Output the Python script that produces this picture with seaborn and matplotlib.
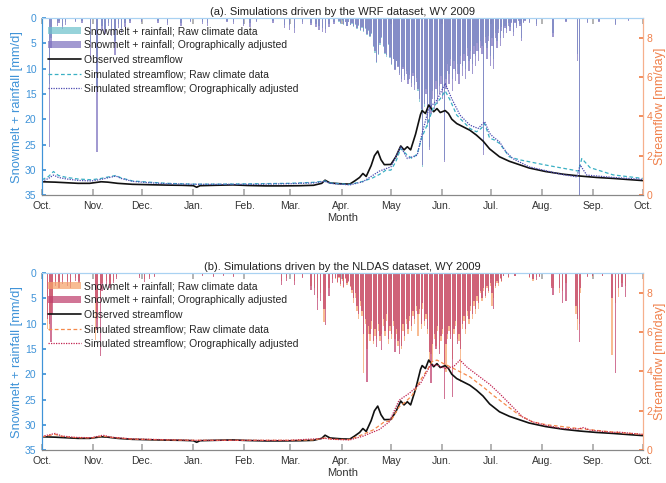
import numpy as np
import matplotlib
matplotlib.use("Agg")
import matplotlib.pyplot as plt
import seaborn as sns

# Day of water year (0 = Oct 1, 2008)
month_starts = [0, 31, 61, 92, 123, 151, 182, 212, 243, 273, 304, 335, 365]
month_labels = ["Oct.", "Nov.", "Dec.", "Jan.", "Feb.", "Mar.", "Apr.", "May",
                "Jun.", "Jul.", "Aug.", "Sep.", "Oct."]

# Observed streamflow [mm/day] (same in both panels)
obs_day = [0, 8, 15, 22, 29, 36, 40, 46, 55, 65, 76, 85, 92, 94, 96, 105, 116, 125, 136, 146,
           157, 165, 170, 172, 175, 181, 187, 190, 193, 195, 197, 200, 202, 204, 206, 208, 212,
           215, 218, 220, 222, 224, 227, 230, 231, 233, 235, 238, 240, 242, 245, 247, 249, 252,
           256, 260, 264, 268, 272, 278, 284, 290, 296, 306, 317, 327, 337, 347, 355, 365]
obs_q = [0.68, 0.66, 0.63, 0.6, 0.6, 0.68, 0.66, 0.6, 0.55, 0.53, 0.51, 0.5, 0.48, 0.4, 0.48,
         0.5, 0.52, 0.49, 0.47, 0.47, 0.48, 0.5, 0.6, 0.76, 0.62, 0.58, 0.56, 0.72, 0.9, 1.1,
         0.95, 1.5, 2.0, 2.24, 1.8, 1.55, 1.56, 1.95, 2.5, 2.3, 2.46, 2.3, 3.1, 4.1, 4.3, 4.15,
         4.58, 4.24, 4.4, 4.2, 4.3, 4.15, 3.86, 3.64, 3.47, 3.3, 3.05, 2.75, 2.35, 1.95, 1.72,
         1.55, 1.38, 1.2, 1.06, 0.97, 0.9, 0.85, 0.8, 0.74]

# WRF simulated streamflow
wrf_raw_day = [0, 4, 7, 10, 15, 22, 30, 36, 40, 45, 48, 55, 65, 76, 92, 110, 130, 150, 165, 172,
               175, 187, 195, 201, 205, 209, 212, 215, 218, 222, 225, 228, 231, 234, 238, 242,
               245, 248, 252, 256, 260, 264, 267, 269, 272, 275, 278, 284, 290, 306, 323, 326,
               328, 333, 347, 365]
wrf_raw_q = [0.78, 0.95, 1.2, 1.0, 0.9, 0.82, 0.78, 0.85, 0.92, 1.0, 0.88, 0.72, 0.66, 0.6,
             0.56, 0.56, 0.58, 0.6, 0.65, 0.72, 0.62, 0.54, 0.7, 0.88, 1.05, 1.27, 1.27, 1.7,
             2.37, 2.03, 1.86, 2.1, 2.97, 3.56, 4.5, 4.9, 5.3, 4.83, 4.07, 3.73, 3.39, 3.22, 3.4,
             3.64, 2.9, 2.8, 2.63, 1.95, 1.8, 1.53, 1.27, 1.22, 1.86, 1.4, 1.03, 0.85]
wrf_oro_day = [0, 4, 7, 10, 15, 22, 30, 36, 40, 45, 48, 55, 65, 76, 92, 110, 130, 150, 165, 172,
               175, 187, 195, 205, 212, 218, 222, 228, 231, 235, 240, 245, 249, 254, 260, 265,
               269, 272, 274, 278, 282, 286, 296, 316, 325, 327, 331, 347, 365]
wrf_oro_q = [0.7, 0.85, 1.02, 0.9, 0.82, 0.75, 0.72, 0.8, 0.88, 0.97, 0.85, 0.7, 0.63, 0.58,
             0.55, 0.55, 0.55, 0.58, 0.62, 0.7, 0.6, 0.52, 0.68, 1.22, 1.44, 2.46, 1.86, 2.03,
             3.14, 4.4, 4.83, 5.68, 4.9, 4.07, 3.56, 3.39, 3.73, 3.14, 2.97, 2.71, 2.2, 1.86,
             1.44, 1.05, 0.93, 1.53, 1.02, 0.9, 0.8]

# NLDAS simulated streamflow
nl_raw_day = [0, 8, 12, 20, 30, 37, 42, 55, 76, 92, 120, 150, 165, 172, 177, 187, 195, 201, 204,
              208, 212, 217, 221, 225, 230, 234, 237, 240, 244, 248, 252, 256, 260, 264, 268,
              274, 282, 290, 298, 306, 326, 347, 365]
nl_raw_q = [0.68, 0.8, 0.7, 0.64, 0.62, 0.72, 0.65, 0.56, 0.52, 0.5, 0.5, 0.5, 0.52, 0.62, 0.55,
            0.54, 0.8, 1.02, 1.19, 1.44, 1.49, 2.2, 2.46, 2.8, 3.56, 4.07, 4.5, 4.58, 4.4, 4.24,
            4.07, 3.9, 3.73, 3.47, 3.22, 2.8, 2.29, 1.78, 1.44, 1.3, 1.1, 0.92, 0.8]
nl_oro_day = [0, 8, 12, 20, 30, 37, 42, 55, 76, 92, 120, 150, 172, 177, 187, 195, 205, 211, 217,
              223, 230, 236, 240, 245, 250, 254, 258, 262, 268, 272, 278, 286, 292, 298, 306,
              316, 326, 329, 333, 347, 350, 365]
nl_oro_q = [0.7, 0.85, 0.72, 0.65, 0.63, 0.76, 0.66, 0.57, 0.53, 0.5, 0.5, 0.5, 0.6, 0.55, 0.52,
            0.71, 1.05, 1.44, 2.54, 2.88, 3.39, 4.32, 4.32, 4.15, 4.24, 4.58, 4.24, 3.98, 3.6,
            3.35, 2.88, 2.2, 1.69, 1.44, 1.27, 1.1, 1.08, 1.15, 1.02, 0.9, 0.92, 0.8]

# WRF snowmelt + rainfall [mm/d]: isolated days, then a daily block from day 180
wrf_sparse_day = [4, 5, 9, 10, 12, 14, 20, 24, 29, 33, 36, 38, 40, 42, 44, 46, 48, 50, 53, 60, 70,
                  76, 84, 90, 97, 100, 112, 116, 122, 126, 130, 140, 147, 150, 153, 158, 163,
                  166, 168, 170, 172, 174, 177, 296, 300, 310, 318, 325, 326, 331, 338, 348, 356]
wrf_sparse_raw = [13, 4, 1.0, 0.6, 1.6, 0.8, 0.5, 0.6, 5, 14, 1.5, 2.2, 0.9, 2.6, 4.5, 1.2, 2.0,
                  1.0, 0.6, 0.5, 0.6, 0.9, 1.0, 0.5, 0.7, 1.0, 0.5, 0.8, 1.1, 0.9, 0.5, 0.6, 1.3,
                  1.4, 2.0, 0.8, 0.9, 1.2, 1.6, 1.9, 2.2, 1.2, 0.7, 0.8, 1.2, 3.0, 0.6, 7.0, 35,
                  0.8, 0.6, 1.2, 0.4]
wrf_sparse_oro = [25.5, 6, 1.6, 0.9, 2.2, 1.3, 0.8, 1.0, 8, 26.5, 2.5, 3.2, 1.6, 3.6, 7.3, 2.0,
                  3.0, 1.8, 1.0, 0.8, 1.0, 1.3, 1.6, 0.8, 1.1, 1.5, 0.8, 1.2, 1.6, 1.7, 0.8, 1.0,
                  2.0, 2.3, 3.0, 1.2, 1.4, 1.8, 2.3, 2.7, 3.0, 1.7, 1.1, 1.0, 1.5, 3.7, 0.8, 8.5,
                  36, 1.0, 0.7, 1.4, 0.5]
wrf_block_start = 180
wrf_block_raw = [0.7, 1.1, 0.5, 1.3, 0.8, 1.6, 0.8, 1.4, 1.1, 1.8,
                 1.3, 2.2, 1.5, 2.5, 1.9, 2.8, 2.2, 3.4, 2.6, 3.8,
                 3.2, 5.8, 6.9, 8.9, 7.2, 5.3, 4.0, 5.8, 7.1, 7.6,
                 5.4, 7.8, 9.2, 8.1, 10.0, 8.5, 9.4, 10.8, 12.0, 9.6,
                 11.5, 10.5, 12.2, 11.3, 12.8, 10.8, 13.2, 11.8, 14.5, 16.5,
                 18.5, 29.5, 17.5, 14.0, 21.5, 25.5, 17.5, 14.5, 16.0, 12.5,
                 15.0, 13.5, 11.5, 14.0, 28.0, 12.0, 9.0, 11.0, 8.0, 12.0,
                 8.5, 10.5, 9.0, 11.0, 7.5, 9.5, 7.0, 10.0, 6.0, 8.5,
                 6.5, 9.0, 5.5, 7.5, 5.0, 6.5, 4.5, 5.5, 26.0, 3.8,
                 6.0, 3.5, 7.5, 4.0, 8.0, 3.0, 4.5, 2.2, 4.0, 1.8,
                 3.0, 1.5, 2.2, 1.0, 1.8, 0.8, 2.8, 0.7, 1.5, 0.4,
                 1.2, 4.0, 0.8, 0.4]
wrf_block_oro = [0.6, 1.0, 0.4, 1.2, 0.8, 1.5, 0.7, 1.3, 1.0, 1.6,
                 1.2, 2.0, 1.4, 2.3, 1.8, 2.6, 2.0, 3.2, 2.4, 3.6,
                 3.0, 5.5, 6.6, 8.6, 7.0, 5.0, 3.8, 5.6, 6.8, 7.3,
                 5.2, 7.6, 9.0, 8.0, 10.2, 8.4, 9.6, 11.2, 12.6, 10.0,
                 12.2, 11.0, 13.0, 12.0, 13.6, 11.4, 14.2, 12.6, 14.0, 16.0,
                 18.0, 29.0, 17.0, 15.0, 21.0, 26.0, 19.0, 16.0, 18.0, 14.0,
                 17.0, 15.0, 13.0, 16.0, 28.5, 14.0, 10.5, 13.0, 9.5, 14.5,
                 10.0, 12.5, 11.0, 13.0, 9.0, 11.5, 8.5, 12.0, 7.5, 10.5,
                 8.0, 11.0, 7.0, 9.5, 6.5, 8.5, 6.0, 7.0, 27.0, 5.0,
                 8.0, 4.5, 9.5, 5.5, 10.0, 4.0, 6.0, 3.0, 5.5, 2.5,
                 4.0, 2.0, 3.0, 1.5, 2.5, 1.0, 3.5, 1.0, 2.0, 0.5,
                 1.5, 4.5, 1.0, 0.5]

# NLDAS snowmelt + rainfall [mm/d]
nl_sparse_day = [3, 4, 5, 6, 8, 10, 12, 15, 17, 20, 22, 32, 33, 35, 36, 39, 41, 43, 45, 59, 62, 65,
                 68, 97, 104, 110, 116, 145, 148, 153, 158, 163, 165, 167, 169, 171, 172, 174,
                 176, 283, 287, 296, 298, 300, 302, 309, 310, 314, 316, 318, 324, 325, 326, 327,
                 331, 334, 340, 346, 348, 350, 352, 354]
nl_sparse_raw = [11, 11.5, 8, 6, 1.5, 2.0, 1.4, 1.5, 2.0, 1.0, 1.5, 13.2, 9, 5, 2.0, 1.5, 2.2,
                 1.5, 0.8, 0.6, 1.2, 0.8, 0.5, 0.4, 0.5, 0.4, 0.5, 1.5, 1.0, 1.6, 0.7, 2.5, 3.0,
                 5.0, 4.0, 9.6, 7.0, 3.0, 1.2, 1.0, 0.6, 1.0, 1.5, 0.8, 0.5, 2.5, 3.0, 4.0, 3.5,
                 2.0, 8.0, 11.3, 10.0, 4.0, 0.6, 0.8, 0.5, 16.2, 6.0, 4.7, 2.0, 2.5]
nl_sparse_oro = [9, 10, 13.6, 8, 2.5, 3.0, 2.2, 2.5, 3.0, 1.5, 2.0, 6, 11.3, 16.4, 3.5, 2.5, 3.0,
                 2.0, 1.2, 1.0, 1.8, 1.2, 0.8, 0.6, 0.7, 0.6, 0.8, 2.4, 1.6, 2.4, 1.0, 3.4, 4.4,
                 7.3, 5.5, 7.0, 10.3, 4.5, 2.0, 0.8, 0.5, 0.8, 1.2, 1.4, 0.8, 3.0, 4.4, 3.0, 6.0,
                 5.5, 6.5, 9.0, 13.6, 3.0, 0.8, 0.5, 0.6, 5.0, 19.8, 3.0, 2.7, 4.7]
nl_block_start = 178
nl_block_raw = [1.2, 2.0, 1.0, 2.5, 1.5, 3.0, 1.2, 2.3, 1.8, 2.8,
                4.0, 6.0, 5.0, 7.5, 9.0, 6.5, 8.5, 19.8, 10.0, 15.0,
                12.0, 13.5, 11.0, 14.0, 12.5, 13.0, 11.5, 13.5, 12.0, 10.5,
                12.5, 9.5, 14.0, 11.5, 13.0, 10.5, 13.0, 12.0, 14.5, 13.0,
                15.0, 11.5, 13.5, 10.0, 12.0, 9.5, 11.5, 8.5, 10.0, 7.5,
                12.4, 8.0, 11.0, 7.0, 10.5, 9.0, 12.0, 17.8, 16.0, 17.5,
                13.0, 14.5, 11.5, 15.0, 13.5, 12.0, 18.0, 19.5, 13.0, 11.5,
                12.0, 17.0, 12.0, 10.5, 13.0, 13.5, 21.5, 11.0, 9.5, 12.0,
                8.5, 10.0, 7.5, 9.0, 6.5, 8.0, 5.5, 7.0, 4.0, 5.5,
                3.5, 5.0, 3.0, 4.0, 2.5, 6.5, 5.0, 3.0, 2.0, 2.5,
                1.2, 1.8, 0.6]
nl_block_oro = [1.0, 1.8, 0.8, 2.2, 1.2, 2.7, 1.0, 2.0, 1.5, 2.5,
                3.4, 5.0, 4.0, 6.5, 8.0, 5.5, 7.5, 12.0, 9.0, 21.5,
                10.5, 12.0, 9.5, 13.5, 11.0, 14.6, 10.0, 12.5, 15.2, 9.0,
                11.5, 8.0, 13.0, 10.5, 12.0, 9.5, 15.5, 11.0, 13.5, 15.9,
                14.5, 10.0, 12.5, 9.0, 11.0, 8.5, 10.5, 7.5, 9.0, 6.5,
                8.0, 7.0, 10.0, 6.0, 9.5, 8.0, 11.0, 15.5, 21.8, 14.0,
                12.0, 15.0, 10.5, 16.0, 12.5, 11.0, 24.8, 14.0, 12.0, 10.5,
                13.0, 24.5, 11.0, 9.5, 14.0, 12.0, 15.0, 10.0, 8.5, 11.0,
                7.5, 9.0, 6.5, 8.0, 5.5, 7.0, 4.5, 6.0, 3.5, 5.0,
                3.0, 4.5, 2.5, 3.5, 2.0, 4.0, 7.0, 2.5, 1.5, 2.0,
                1.0, 1.5, 0.5]

BLUE = "#3f93d8"
ORANGE = "#f0814c"

sns.set_theme(style="white")
plt.rcParams["font.family"] = ["Liberation Sans", "DejaVu Sans"]
fs = 7.5

fig = plt.figure(figsize=(6.66, 4.83), dpi=100)


def panel(rect, title, sp_day, sp_raw, sp_oro, blk_start, blk_raw, blk_oro,
          raw_day, raw_q, oro_day, oro_q, bar_raw_c, bar_oro_c, line_raw_c, line_oro_c):
    ax = fig.add_axes(rect)
    days_raw = list(sp_day) + list(range(blk_start, blk_start + len(blk_raw)))
    vals_raw = list(sp_raw) + list(blk_raw)
    days_oro = list(sp_day) + list(range(blk_start, blk_start + len(blk_oro)))
    vals_oro = list(sp_oro) + list(blk_oro)
    b1 = ax.bar(days_raw, vals_raw, width=0.82, color=bar_raw_c, alpha=0.72, align="edge",
                linewidth=0, label="Snowmelt + rainfall; Raw climate data")
    b2 = ax.bar(days_oro, vals_oro, width=0.82, color=bar_oro_c, alpha=0.72, align="edge",
                linewidth=0, label="Snowmelt + rainfall; Orographically adjusted")
    ax.set_ylim(35, 0)
    ax.set_xlim(0, 365)
    ax.set_yticks(range(0, 36, 5))
    ax.set_xticks(month_starts)
    ax.set_xticklabels(month_labels)
    ax.set_ylabel("Snowmelt + rainfall [mm/d]", color=BLUE, fontsize=9.3, labelpad=1)
    ax.set_xlabel("Month", color="#333333", fontsize=fs + 0.5, labelpad=2)
    ax.tick_params(axis="y", colors=BLUE, labelsize=fs, direction="in", length=3, pad=4)
    ax.tick_params(axis="x", colors="#aaaaaa", labelcolor="#333333", labelsize=fs,
                   direction="in", length=4, pad=4, top=True, bottom=True)
    ax.set_title(title, fontsize=fs + 0.5, color="#222222", pad=2)

    ax2 = ax.twinx()
    sns.lineplot(x=obs_day, y=obs_q, ax=ax2, color="#111111", lw=1.2,
                 label="Observed streamflow")
    sns.lineplot(x=raw_day, y=raw_q, ax=ax2, color=line_raw_c, lw=0.9, linestyle=(0, (3, 2)),
                 label="Simulated streamflow; Raw climate data")
    sns.lineplot(x=oro_day, y=oro_q, ax=ax2, color=line_oro_c, lw=0.9, linestyle=(0, (1, 1)),
                 label="Simulated streamflow; Orographically adjusted")
    ax2.set_ylim(0, 9)
    ax2.set_yticks([0, 2, 4, 6, 8])
    ax2.set_ylabel("Streamflow [mm/day]", color=ORANGE, fontsize=9, labelpad=1)
    ax2.tick_params(axis="y", colors=ORANGE, labelsize=fs, direction="in", length=3, pad=3)

    for a in (ax, ax2):
        a.spines["left"].set_color(BLUE)
        a.spines["right"].set_color("#f6b08c")
        a.spines["top"].set_color("#a9d2f2")
        a.spines["bottom"].set_color("#888888")
        for s in a.spines.values():
            s.set_linewidth(0.8)

    lines = ax2.get_lines()
    ax2.legend([b1, b2] + list(lines),
               [b1.get_label(), b2.get_label()] + [l.get_label() for l in lines],
               loc="upper left", bbox_to_anchor=(0.01, 0.955), frameon=False, fontsize=fs,
               handlelength=3.2, handletextpad=0.3, labelspacing=0.42, borderaxespad=0,
               borderpad=0)
    return ax, ax2


panel([0.063, 0.596, 0.902, 0.3665], "(a). Simulations driven by the WRF dataset, WY 2009",
      wrf_sparse_day, wrf_sparse_raw, wrf_sparse_oro, wrf_block_start, wrf_block_raw,
      wrf_block_oro, wrf_raw_day, wrf_raw_q, wrf_oro_day, wrf_oro_q,
      "#6fc3cc", "#7f73c0", "#3ab0c4", "#4a48b0")

panel([0.063, 0.068, 0.902, 0.3665], "(b). Simulations driven by the NLDAS dataset, WY 2009",
      nl_sparse_day, nl_sparse_raw, nl_sparse_oro, nl_block_start, nl_block_raw,
      nl_block_oro, nl_raw_day, nl_raw_q, nl_oro_day, nl_oro_q,
      "#f6a26a", "#c0406e", "#f5894a", "#c0204f")

fig.savefig("out.png", dpi=100)
